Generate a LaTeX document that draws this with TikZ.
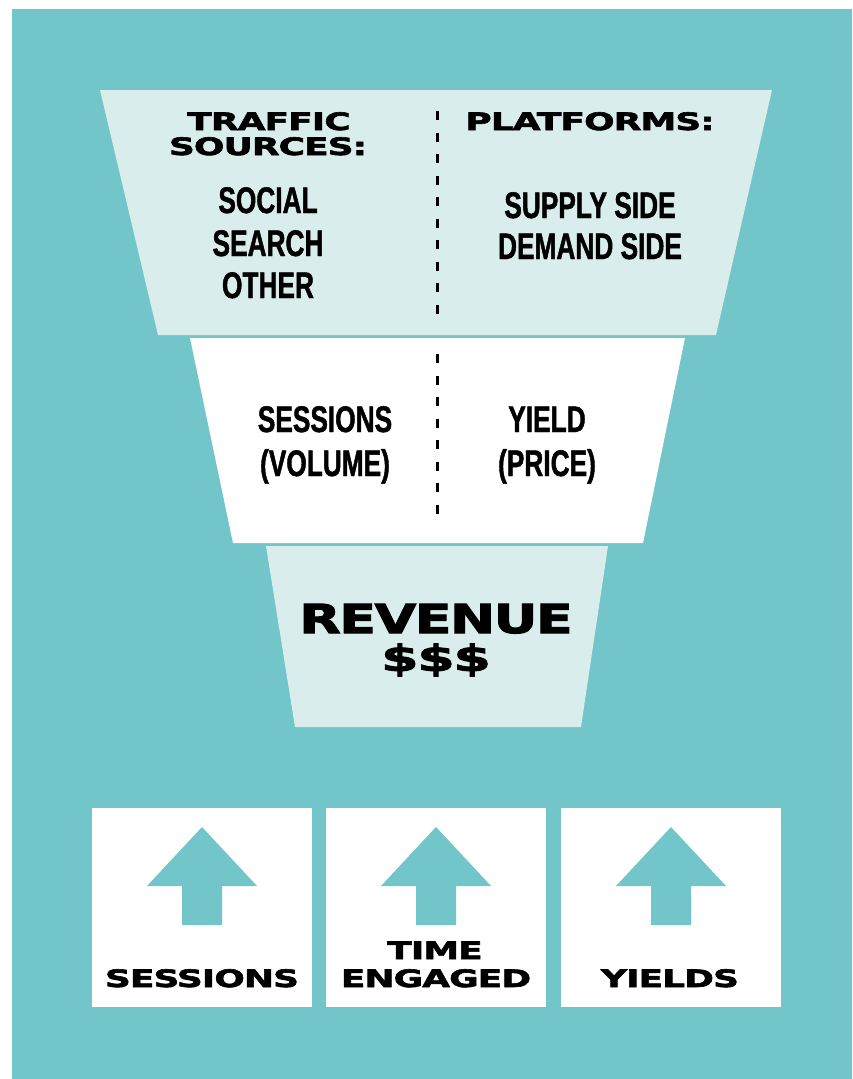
\documentclass[tikz,border=0pt]{standalone}
\usepackage{fontspec}
% wide heavy faces for headings, narrow heavy face for list items
\newfontfamily\widefont[FakeStretch=1.5, FakeBold=2.5, LetterSpace=-4]{DejaVu Sans}
\newfontfamily\bigfont[FakeStretch=1.35, FakeBold=2.5, LetterSpace=-4]{DejaVu Sans}
\newfontfamily\narrowfont[FakeStretch=0.71, FakeBold=1.2]{Liberation Sans}
\definecolor{bgteal}{RGB}{114,197,200}
\definecolor{palefill}{RGB}{217,237,236}
\begin{document}
\begin{tikzpicture}[x=1pt,y=-1pt,
  widelbl/.style={font=\widefont\bfseries\fontsize{24}{24}\selectfont, anchor=base, inner sep=0pt},
  biglbl/.style={font=\bigfont\bfseries\fontsize{40}{40}\selectfont, anchor=base, inner sep=0pt},
  moneylbl/.style={font=\widefont\bfseries\fontsize{36}{36}\selectfont, anchor=base, inner sep=0pt},
  narrowlbl/.style={font=\narrowfont\bfseries\fontsize{37}{37}\selectfont, anchor=base, inner sep=0pt},
  dashline/.style={line width=3pt, dash pattern=on 9pt off 12.5pt},
  tile/.style={fill=white, minimum width=220pt, minimum height=199pt, inner sep=0pt},
  uparr/.pic={\fill[bgteal] (0,-80.5) -- (55,-21.5) -- (20,-21.5) -- (20,17.5)
     -- (-20,17.5) -- (-20,-21.5) -- (-55,-21.5) -- cycle;}
]
\useasboundingbox (0,0) rectangle (852,1079);
\fill[bgteal] (12,9) rectangle (852,1079);

% funnel tiers
\fill[palefill] (100,90) -- (772,90) -- (716,335) -- (158,335) -- cycle;
\fill[white] (190,338) -- (685,338) -- (643,543) -- (233,543) -- cycle;
\fill[palefill] (266,546) -- (608,546) -- (581,727) -- (295,727) -- cycle;

% dividers
\coordinate (d1a) at (437,111);
\coordinate (d1b) at (437,320);
\coordinate (d2a) at (437,354);
\coordinate (d2b) at (437,524);
\draw[dashline] (d1a) -- (d1b);
\draw[dashline] (d2a) -- (d2b);

% top tier
\node[widelbl] (traffic) at (269,130) {TRAFFIC};
\node[widelbl] (sources) at (268,155) {SOURCES:};
\node[widelbl] (platforms) at (590,130) {PLATFORMS:};
\node[narrowlbl] (social) at (268,213) {SOCIAL};
\node[narrowlbl] (search) at (268,256) {SEARCH};
\node[narrowlbl] (other) at (268,298) {OTHER};
\node[narrowlbl] (supply) at (590,218) {SUPPLY SIDE};
\node[narrowlbl] (demand) at (590,259) {DEMAND SIDE};

% middle tier
\node[narrowlbl] (sessions) at (325,432) {SESSIONS};
\node[narrowlbl] (volume) at (325,476) {(VOLUME)};
\node[narrowlbl] (yield) at (547,432) {YIELD};
\node[narrowlbl] (price) at (547,476) {(PRICE)};

% bottom tier
\node[biglbl] (revenue) at (436,633) {REVENUE};
\node[moneylbl] (dollars) at (436,671) {\$\$\$};

% growth tiles
\node[tile] (tile1) at (202,907.5) {};
\node[tile] (tile2) at (436,907.5) {};
\node[tile] (tile3) at (671,907.5) {};
\path (tile1) pic {uparr};
\path (tile2) pic {uparr};
\path (tile3) pic {uparr};
\node[widelbl] (t1lbl) at (202,987) {SESSIONS};
\node[widelbl] (t2lbla) at (435,959) {TIME};
\node[widelbl] (t2lblb) at (436,987) {ENGAGED};
\node[widelbl] (t3lbl) at (670,987) {YIELDS};
\end{tikzpicture}
\end{document}
